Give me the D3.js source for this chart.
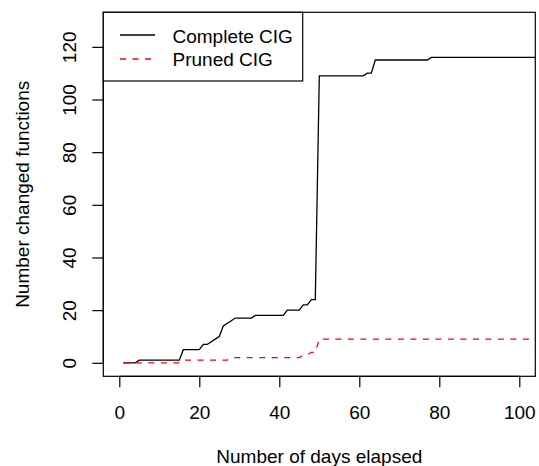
<!DOCTYPE html>
<html>
<head>
<meta charset="utf-8">
<script src="https://cdn.jsdelivr.net/npm/d3@7"></script>
<style>
  body { margin: 0; background: #fff; }
  svg { display: block; font-family: "Liberation Sans", Arial, sans-serif; }
</style>
</head>
<body>
<div id="chart"></div>
<script>
// days elapsed (x) and changed functions per CIG variant
var days = [1,2,3,4,5,6,7,8,9,10,11,12,13,14,15,16,17,18,19,20,
  21,22,23,24,25,26,27,28,29,30,31,32,33,34,35,36,37,38,39,40,
  41,42,43,44,45,46,47,48,49,50,51,52,53,54,55,56,57,58,59,60,
  61,62,63,64,65,66,67,68,69,70,71,72,73,74,75,76,77,78,79,80,
  81,82,83,84,85,86,87,88,89,90,91,92,93,94,95,96,97,98,99,100,
  101,102,103,104,105,106];
var complete = [0,0,0,0,1,1,1,1,1,1,1,1,1,1,1,5,5,5,5,5,
  7,7,8,9,10,14,15,16,17,17,17,17,17,18,18,18,18,18,18,18,
  18,20,20,20,20,22,22,24,24,109,109,109,109,109,109,109,109,109,109,109,
  109,110,110,115,115,115,115,115,115,115,115,115,115,115,115,115,115,116,116,116,
  116,116,116,116,116,116,116,116,116,116,116,116,116,116,116,116,116,116,116,116,
  116,116,116,116,116,116];
var pruned = [0,0,0,0,0,0,0,0,0,0,0,0,0,0,0,1,1,1,1,1,
  1,1,1,1,1,1,1,2,2,2,2,2,2,2,2,2,2,2,2,2,
  2,2,2,2,2,3,3,4,4,9,9,9,9,9,9,9,9,9,9,9,
  9,9,9,9,9,9,9,9,9,9,9,9,9,9,9,9,9,9,9,9,
  9,9,9,9,9,9,9,9,9,9,9,9,9,9,9,9,9,9,9,9,
  9,9,9,9,9,9];
var xTicks = [0, 20, 40, 60, 80, 100];
var yTicks = [0, 20, 40, 60, 80, 100, 120];
var seriesNames = ["Complete CIG", "Pruned CIG"];

var W = 539, H = 466;
var xlim = [0, 100], ylim = [0, 128];
// R style 4% axis extension
function extend(l) { var d = (l[1] - l[0]) * 0.04; return [l[0] - d, l[1] + d]; }

var plot = { left: 103.3, right: 535.3, top: 12.3, bottom: 376.3 };

var x = d3.scaleLinear().domain(extend(xlim)).range([plot.left, plot.right]);
var y = d3.scaleLinear().domain(extend(ylim)).range([plot.bottom, plot.top]);

var svg = d3.select("#chart").append("svg")
  .attr("width", W).attr("height", H);

svg.append("defs").append("clipPath").attr("id", "clip")
  .append("rect")
  .attr("x", plot.left).attr("y", plot.top)
  .attr("width", plot.right - plot.left).attr("height", plot.bottom - plot.top);

var line = function (vals) {
  return d3.line()
    .x(function (d, i) { return x(days[i]); })
    .y(function (d) { return y(d); })(vals);
};

var g = svg.append("g").attr("clip-path", "url(#clip)");

g.append("path")
  .attr("d", line(complete))
  .attr("fill", "none")
  .attr("stroke", "#000")
  .attr("stroke-width", 1.3);

g.append("path")
  .attr("d", line(pruned))
  .attr("fill", "none")
  .attr("stroke", "#ff0000")
  .attr("stroke-width", 1.3)
  .attr("stroke-dasharray", "6,6.5");

// axes
var xAxis = d3.axisBottom(x).tickValues(xTicks).tickSize(11).tickPadding(18.5);
var yAxis = d3.axisLeft(y).tickValues(yTicks).tickSize(11).tickPadding(12);

var gx = svg.append("g")
  .attr("transform", "translate(0," + plot.bottom + ")")
  .call(xAxis);
gx.select(".domain").attr("d", "M" + x(xTicks[0]) + ",0H" + x(xTicks[xTicks.length - 1]));

var gy = svg.append("g")
  .attr("transform", "translate(" + plot.left + ",0)")
  .call(yAxis);
gy.select(".domain").attr("d", "M0," + y(yTicks[0]) + "V" + y(yTicks[yTicks.length - 1]));

svg.selectAll(".tick line").attr("stroke", "#000").attr("stroke-width", 1.2);
svg.selectAll(".domain").attr("stroke", "#000").attr("stroke-width", 1.2);
svg.selectAll(".tick text")
  .attr("font-size", 19)
  .attr("font-family", "Liberation Sans, Arial, sans-serif")
  .attr("fill", "#000");

gy.selectAll(".tick text")
  .attr("text-anchor", "middle")
  .attr("dy", null)
  .attr("x", null)
  .attr("transform", "translate(-33.5,0) rotate(-90)")
  .attr("dominant-baseline", "central");

// frame box
svg.append("rect")
  .attr("x", plot.left).attr("y", plot.top)
  .attr("width", plot.right - plot.left).attr("height", plot.bottom - plot.top)
  .attr("fill", "none").attr("stroke", "#000").attr("stroke-width", 1.2);

// axis titles
svg.append("text")
  .attr("x", (plot.left + plot.right) / 2).attr("y", 462.5)
  .attr("text-anchor", "middle")
  .attr("font-size", 19)
  .text("Number of days elapsed");

svg.append("text")
  .attr("transform", "translate(29," + ((plot.top + plot.bottom) / 2) + ") rotate(-90)")
  .attr("text-anchor", "middle")
  .attr("font-size", 19)
  .text("Number changed functions");

// legend
var leg = svg.append("g");
leg.append("rect")
  .attr("x", plot.left).attr("y", plot.top)
  .attr("width", 302.7 - plot.left).attr("height", 81 - plot.top)
  .attr("fill", "#fff").attr("stroke", "#000").attr("stroke-width", 1.2);

var legStyles = [
  { color: "#000", dash: null },
  { color: "#ff0000", dash: "6,6.5" }
];
seriesNames.forEach(function (name, i) {
  var ly = 35 + i * 24;
  leg.append("line")
    .attr("x1", 120).attr("x2", 155)
    .attr("y1", ly).attr("y2", ly)
    .attr("stroke", legStyles[i].color)
    .attr("stroke-width", 1.3)
    .attr("stroke-dasharray", legStyles[i].dash);
  leg.append("text")
    .attr("x", 172.5).attr("y", 43.3 + i * 23)
    .attr("font-size", 19)
    .text(name);
});
</script>
</body>
</html>
